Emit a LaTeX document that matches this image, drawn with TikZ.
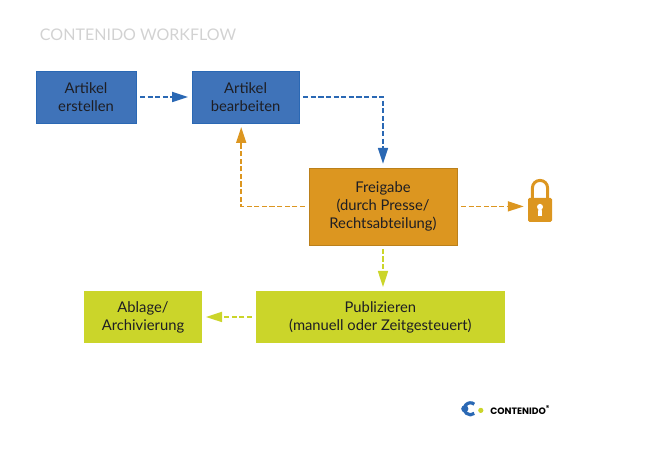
\documentclass[tikz,border=0pt]{standalone}
\usepackage{fontspec}
\setmainfont{Lato}
\newfontfamily\logofont{Poppins}
\usetikzlibrary{arrows.meta}
\definecolor{artikelblue}{HTML}{3F73B9}
\definecolor{lineblue}{HTML}{2A68B4}
\definecolor{freigabeorange}{HTML}{DC9620}
\definecolor{publizgreen}{HTML}{CBD52A}
\definecolor{titlegrey}{HTML}{D2D2D2}
\definecolor{boxtext}{HTML}{1E1E24}

\begin{document}
\begin{tikzpicture}[
		box/.style={rectangle,minimum height=1.3cm,align=center,inner sep=0pt,outer sep=0.1cm,
			text=boxtext,font=\fontsize{10.5}{12.7}\selectfont},
		bluebox/.style={box,fill=artikelblue,draw=lineblue,line width=0.6pt},
		orangebox/.style={box,fill=freigabeorange,draw=freigabeorange!85!black,line width=0.4pt},
		greenbox/.style={box,fill=publizgreen},
		flow/.style={line width=1.2pt,dash pattern=on 0.13cm off 0.06cm,-{Triangle[length=0.4cm,width=0.25cm]}},
	]
		\useasboundingbox (0,0) rectangle (16.5,11.7);

		\node [font=\fontsize{11.4}{14}\selectfont,text=titlegrey,inner sep=0pt] (title) at (3.45,10.83) {CONTENIDO WORKFLOW};

		\node [bluebox,minimum width=2.5cm] (erstellen) at (2.15,9.275) {Artikel\\erstellen};
		\node [bluebox,minimum width=2.675cm] (bearbeiten) at (6.14,9.275) {Artikel\\bearbeiten};
		\node [orangebox,minimum width=3.7cm,minimum height=1.925cm] (freigabe) at (9.575,6.54) {Freigabe\\(durch Presse/\\Rechtsabteilung)};
		\node [greenbox,minimum width=6.225cm] (publizieren) at (9.51,3.775) {Publizieren\\(manuell oder Zeitgesteuert)};
		\node [greenbox,minimum width=2.95cm] (ablage) at (3.575,3.775) {Ablage/\\Archivierung};
		\node [minimum width=0.65cm,minimum height=1.075cm,inner sep=0pt,outer sep=0.08cm] (lock) at (13.5,6.69) {};

		\draw [flow,lineblue] (erstellen) -- (bearbeiten);
		\draw [flow,lineblue] (bearbeiten.east) -| (freigabe.north);
		\draw [flow,freigabeorange] (freigabe.west) -| ([xshift=-0.11cm]bearbeiten.south);
		\draw [flow,freigabeorange] (freigabe.east) -- (freigabe.east -| lock.west);
		\draw [flow,publizgreen] (freigabe) -- (freigabe |- publizieren.north);
		\draw [flow,publizgreen] (publizieren) -- (ablage);

		\begin{scope}[shift={(lock.center)}]
			\draw [freigabeorange,line width=0.075cm] (-0.19,0.05) -- (-0.19,0.31) arc (180:0:0.19) -- (0.19,0.05);
			\fill [freigabeorange,rounded corners=0.04cm] (-0.3,-0.5375) rectangle (0.3,0.0625);
			\fill [white] (0,-0.1625) circle (0.075);
			\fill [white] (-0.04,-0.17) -- (0.04,-0.17) -- (0.05,-0.39) -- (-0.05,-0.39) -- cycle;
		\end{scope}

		\begin{scope}[shift={(11.76,1.48)}]
			\draw [lineblue,line width=0.08cm] (0,0) ++(50:0.15) arc (50:310:0.15);
			\fill [lineblue] (-0.14,0) circle (0.09);
			\fill [publizgreen] (0.26,-0.04) circle (0.065);
		\end{scope}
		\node [font=\logofont\fontsize{6.6}{7}\selectfont\bfseries,text=black,inner sep=0pt,anchor=west] (logo) at (12.25,1.45) {CONTENIDO\textsuperscript{\tiny ®}};

	\end{tikzpicture}
\end{document}
